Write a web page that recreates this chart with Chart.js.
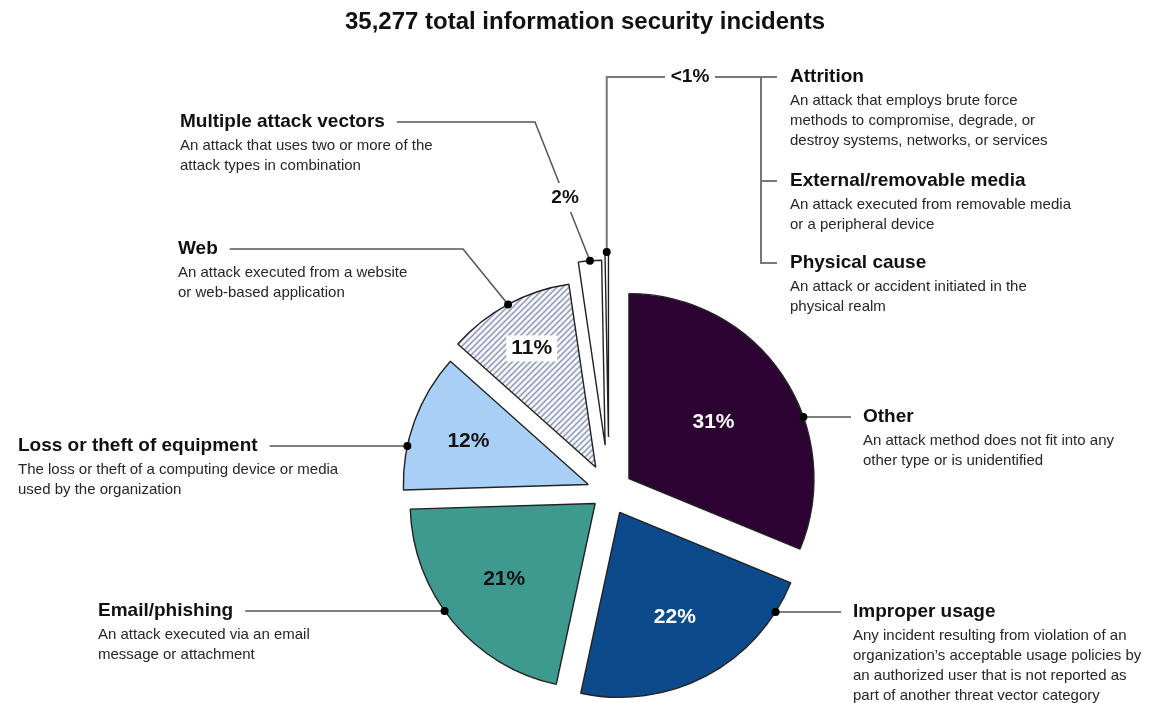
<!DOCTYPE html>
<html>
<head>
<meta charset="utf-8">
<title>Information security incidents</title>
<script src="https://cdn.jsdelivr.net/npm/chart.js@4.4.0/dist/chart.umd.min.js"></script>
<style>
  html, body { margin: 0; padding: 0; background: #fff; }
  #wrap { width: 1165px; height: 703px; }
</style>
</head>
<body>
<div id="wrap"><canvas id="incidentChart" width="1165" height="703"></canvas></div>
<script>
// Share of incidents by attack vector (percent)
const chartTitle = '35,277 total information security incidents';
const categories = ['Other', 'Improper usage', 'Email/phishing', 'Loss or theft of equipment', 'Web', 'Multiple attack vectors', 'Attrition / External/removable media / Physical cause'];
const shares = [31, 22, 21, 12, 11, 2, 0.3];
const shareLabels = ['31%', '22%', '21%', '12%', '11%', '2%', '<1%'];
const descriptions = [
  ['An attack method does not fit into any', 'other type or is unidentified'],
  ['Any incident resulting from violation of an', 'organization\u2019s acceptable usage policies by', 'an authorized user that is not reported as', 'part of another threat vector category'],
  ['An attack executed via an email', 'message or attachment'],
  ['The loss or theft of a computing device or media', 'used by the organization'],
  ['An attack executed from a website', 'or web-based application'],
  ['An attack that uses two or more of the', 'attack types in combination'],
  []
];
// the three types grouped in the <1% slice
const smallTypes = ['Attrition', 'External/removable media', 'Physical cause'];
const smallDescriptions = [
  ['An attack that employs brute force', 'methods to compromise, degrade, or', 'destroy systems, networks, or services'],
  ['An attack executed from removable media', 'or a peripheral device'],
  ['An attack or accident initiated in the', 'physical realm']
];

// styling
const FONT = '"Liberation Sans", Arial, Helvetica, sans-serif';
const explode = [24, 23, 18, 22, 28, 47, 55];
const labelRadius = [0.55, 0.64, 0.64, 0.69, 0.73];
const labelColors = ['#ffffff', '#ffffff', '#111111', '#111111', '#111111'];
const notes = [
  { slice: 0, side: 'right', x: 863, y: 417 },
  { slice: 1, side: 'right', x: 853, y: 612 },
  { slice: 2, side: 'left', x: 98, y: 611 },
  { slice: 3, side: 'left', x: 18, y: 446 },
  { slice: 4, side: 'elbow', x: 178, y: 249, elbowX: 463 },
  { slice: 5, side: 'slant', x: 180, y: 122, elbowX: 535, tagY: 198 }
];
const bracket = { slice: 6, x: 761, tagX: 690, rows: [77, 181, 263], textX: 790 };

const canvas = document.getElementById('incidentChart');
const mainCtx = canvas.getContext('2d');

function hatchPattern() {
  const c = document.createElement('canvas');
  c.width = 6; c.height = 6;
  const g = c.getContext('2d');
  g.fillStyle = '#ffffff';
  g.fillRect(0, 0, 6, 6);
  g.strokeStyle = '#6f80a6';
  g.lineWidth = 1.3;
  g.beginPath();
  g.moveTo(-1, 7); g.lineTo(7, -1);
  g.moveTo(-1, 1); g.lineTo(1, -1);
  g.moveTo(5, 7); g.lineTo(7, 5);
  g.stroke();
  return mainCtx.createPattern(c, 'repeat');
}

const sliceColors = ['#2c0332', '#0c4a8b', '#3e998f', '#a8d0f6', hatchPattern(), '#ffffff', '#ffffff'];

// draw each slice pulled out along its mid angle
const explodePlugin = {
  id: 'explode',
  beforeDatasetDraw(chart, args) {
    const ctx = chart.ctx;
    args.meta.data.forEach((arc, i) => {
      const mid = (arc.startAngle + arc.endAngle) / 2;
      ctx.save();
      ctx.translate(Math.cos(mid) * explode[i], Math.sin(mid) * explode[i]);
      arc.draw(ctx);
      ctx.restore();
    });
    return false;
  }
};

function textBlock(ctx, x, y, title, lines) {
  ctx.textAlign = 'left';
  ctx.textBaseline = 'middle';
  ctx.fillStyle = '#111';
  ctx.font = 'bold 19px ' + FONT;
  ctx.fillText(title, x, y);
  const w = ctx.measureText(title).width;
  ctx.font = '15px ' + FONT;
  ctx.fillStyle = '#262626';
  lines.forEach((l, k) => ctx.fillText(l, x, y + 24 + k * 20));
  return w;
}

function dot(ctx, x, y) {
  ctx.beginPath();
  ctx.arc(x, y, 4, 0, Math.PI * 2);
  ctx.fillStyle = '#000';
  ctx.fill();
}

function line(ctx, pts, color, width) {
  ctx.beginPath();
  ctx.moveTo(pts[0][0], pts[0][1]);
  for (let k = 1; k < pts.length; k++) ctx.lineTo(pts[k][0], pts[k][1]);
  ctx.strokeStyle = color;
  ctx.lineWidth = width;
  ctx.stroke();
}

const notesPlugin = {
  id: 'notes',
  afterDraw(chart) {
    const ctx = chart.ctx;
    const arcs = chart.getDatasetMeta(0).data;
    const geo = arcs.map((arc, i) => {
      const mid = (arc.startAngle + arc.endAngle) / 2;
      return {
        cx: arc.x + Math.cos(mid) * explode[i],
        cy: arc.y + Math.sin(mid) * explode[i],
        r: arc.outerRadius,
        mid: mid
      };
    });
    ctx.save();

    // title
    ctx.fillStyle = '#111';
    ctx.font = 'bold 24px ' + FONT;
    ctx.textAlign = 'center';
    ctx.textBaseline = 'middle';
    ctx.fillText(chartTitle, 585, 22);

    // percentages inside the big slices
    ctx.font = 'bold 21px ' + FONT;
    for (let i = 0; i < labelRadius.length; i++) {
      const g = geo[i];
      const x = g.cx + Math.cos(g.mid) * g.r * labelRadius[i];
      const y = g.cy + Math.sin(g.mid) * g.r * labelRadius[i];
      if (i === 4) {
        const w = ctx.measureText(shareLabels[i]).width;
        ctx.fillStyle = '#fff';
        ctx.fillRect(x - w / 2 - 5, y - 13, w + 10, 26);
      }
      ctx.fillStyle = labelColors[i];
      ctx.textAlign = 'center';
      ctx.fillText(shareLabels[i], x, y);
    }

    // callouts
    notes.forEach(n => {
      const g = geo[n.slice];
      const tw = textBlock(ctx, n.x, n.y, categories[n.slice], descriptions[n.slice]);
      let dx, dy;
      if (n.side === 'right' || n.side === 'left') {
        const h = Math.sqrt(Math.max(g.r * g.r - (n.y - g.cy) * (n.y - g.cy), 0));
        dx = n.side === 'right' ? g.cx + h : g.cx - h;
        dy = n.y;
        if (n.side === 'right') line(ctx, [[dx, dy], [n.x - 12, dy]], '#555', 1.5);
        else line(ctx, [[n.x + tw + 12, dy], [dx, dy]], '#555', 1.5);
      } else {
        dx = g.cx + Math.cos(g.mid) * g.r;
        dy = g.cy + Math.sin(g.mid) * g.r;
        if (n.side === 'elbow') {
          line(ctx, [[n.x + tw + 12, n.y], [n.elbowX, n.y], [dx, dy]], '#555', 1.5);
        } else {
          const t1 = (n.tagY - 15 - n.y) / (dy - n.y);
          const t2 = (n.tagY + 14 - n.y) / (dy - n.y);
          const px = t => n.elbowX + (dx - n.elbowX) * t;
          line(ctx, [[n.x + tw + 12, n.y], [n.elbowX, n.y], [px(t1), n.tagY - 15]], '#555', 1.5);
          line(ctx, [[px(t2), n.tagY + 14], [dx, dy]], '#555', 1.5);
          ctx.font = 'bold 19px ' + FONT;
          ctx.fillStyle = '#111';
          ctx.textAlign = 'center';
          ctx.fillText(shareLabels[n.slice], px((n.tagY - n.y) / (dy - n.y)), n.tagY);
        }
      }
      dot(ctx, dx, dy);
    });

    // bracket for the <1% group
    const b = geo[bracket.slice];
    const bx = b.cx + Math.cos(b.mid) * b.r;
    const by = b.cy + Math.sin(b.mid) * b.r;
    const top = bracket.rows[0];
    line(ctx, [[bx, by], [bx, top], [bracket.tagX - 25, top]], '#777', 2);
    line(ctx, [[bracket.tagX + 25, top], [bracket.x, top], [bracket.x, bracket.rows[2]], [bracket.x + 16, bracket.rows[2]]], '#777', 2);
    line(ctx, [[bracket.x, bracket.rows[1]], [bracket.x + 16, bracket.rows[1]]], '#777', 2);
    line(ctx, [[bracket.x, top], [bracket.x + 16, top]], '#777', 2);
    ctx.font = 'bold 19px ' + FONT;
    ctx.fillStyle = '#111';
    ctx.textAlign = 'center';
    ctx.textBaseline = 'middle';
    ctx.fillText(shareLabels[bracket.slice], bracket.tagX, top);
    dot(ctx, bx, by);
    smallTypes.forEach((t, k) => textBlock(ctx, bracket.textX, bracket.rows[k], t, smallDescriptions[k]));

    ctx.restore();
  }
};

new Chart(mainCtx, {
  type: 'pie',
  data: {
    labels: categories,
    datasets: [{
      data: shares,
      backgroundColor: sliceColors,
      borderColor: '#222222',
      borderWidth: 1.4
    }]
  },
  options: {
    responsive: false,
    animation: false,
    devicePixelRatio: 1,
    events: [],
    radius: 185,
    rotation: 0,
    layout: { padding: { left: 53, top: 281, right: 0, bottom: 0 } },
    plugins: {
      legend: { display: false },
      tooltip: { enabled: false },
      title: { display: false }
    }
  },
  plugins: [explodePlugin, notesPlugin]
});
</script>
</body>
</html>
